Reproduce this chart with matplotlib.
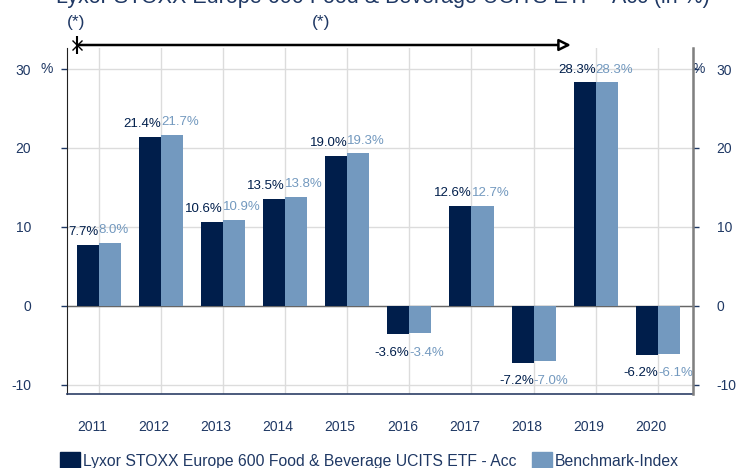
import numpy as np
import matplotlib
matplotlib.use("Agg")
import matplotlib.pyplot as plt
from matplotlib.patches import Patch
from matplotlib.transforms import ScaledTranslation, blended_transform_factory

plt.rcParams['font.family'] = ['Liberation Sans', 'DejaVu Sans']

# data
years = ['2011', '2012', '2013', '2014', '2015', '2016', '2017', '2018', '2019', '2020']
etf = [7.7, 21.4, 10.6, 13.5, 19.0, -3.6, 12.6, -7.2, 28.3, -6.2]
bench = [8.0, 21.7, 10.9, 13.8, 19.3, -3.4, 12.7, -7.0, 28.3, -6.1]
yticks = [-10, 0, 10, 20, 30]
etf_name = 'Lyxor STOXX Europe 600 Food & Beverage UCITS ETF - Acc'
bench_name = 'Benchmark-Index'
title = 'Lyxor STOXX Europe 600 Food & Beverage UCITS ETF - Acc (in %)'

dark = '#001e4b'
light = '#7399bf'
txt = '#1f3864'

fig = plt.figure(figsize=(7.36, 4.68), dpi=100)
ax = fig.add_axes([67/736, 1 - 394/468, (693-67)/736, (394-48)/468])

x = np.arange(len(years))
w = 0.355
ax.bar(x - w/2, etf, w, color=dark, zorder=3)
ax.bar(x + w/2, bench, w, color=light, zorder=3)

ax.set_xlim(-0.51, 9.565)
ax.set_ylim(-11.18, 32.67)

# grid
ax.set_xticks(x)
ax.set_xticklabels(years, fontsize=10, color=txt)
ax.set_yticks(yticks)
ax.grid(True, color='#dcdcdc', lw=1, zorder=0)
ax.axhline(0, color='#666666', lw=1, zorder=2)
ax.tick_params(axis='x', length=0, pad=19)
for lab in ax.get_xticklabels():
    lab.set_transform(lab.get_transform() + ScaledTranslation(-7/100, 0, fig.dpi_scale_trans))

ax.set_yticklabels([str(t) for t in yticks], fontsize=10, color=txt)
ax.tick_params(axis='y', length=4, width=1, color=txt, pad=22, direction='out')

ax2 = ax.twinx()
ax2.set_ylim(ax.get_ylim())
ax2.set_yticks(yticks)
ax2.set_yticklabels([str(t) for t in yticks], fontsize=10, color=txt)
ax2.tick_params(axis='y', length=4, width=1, color=txt, pad=13)

ax.spines['top'].set_visible(False)
ax2.spines['top'].set_visible(False)
ax.spines['left'].set_color('#222222')
ax.spines['bottom'].set_color('#2c3e66')
ax.spines['bottom'].set_linewidth(1.2)
ax2.spines['right'].set_color('#808080')
ax2.spines['right'].set_linewidth(1.8)
ax2.spines['left'].set_visible(False)
ax2.spines['bottom'].set_visible(False)

# "%" unit marks next to the 30 tick
ax.annotate('%', xy=(0, 30), xycoords=('axes fraction', 'data'), xytext=(-14.5, 0),
            textcoords='offset points', ha='center', va='center', fontsize=10, color=txt)
ax.annotate('%', xy=(1, 30), xycoords=('axes fraction', 'data'), xytext=(3.8, 0),
            textcoords='offset points', ha='center', va='center', fontsize=10, color=txt)

# value labels
for i in range(len(years)):
    for v, ha, col in [(etf[i], 'right', dark), (bench[i], 'left', light)]:
        if v >= 0:
            ax.annotate(f'{v:.1f}%', xy=(x[i], v), xytext=(0, 5), textcoords='offset points',
                        ha=ha, va='bottom', fontsize=9.5, color=col, zorder=5)
        else:
            ax.annotate(f'{v:.1f}%', xy=(x[i], min(etf[i], bench[i])), xytext=(0, -9),
                        textcoords='offset points', ha=ha, va='top', fontsize=9.5, color=col, zorder=5)

# period arrow and (*) marks above the plot
tr = blended_transform_factory(ax.transData, fig.transFigure)
ya = 1 - 45/468
ax.annotate('', xy=(7.6, ya), xycoords=tr, xytext=(-0.33, ya), textcoords=tr,
            arrowprops=dict(arrowstyle='-|>,head_length=0.7,head_width=0.35', fc='white',
                            ec='black', lw=1.8, shrinkA=0, shrinkB=0))
ax.plot([-0.35], [ya], marker='x', ms=7, mew=1, color='black', transform=tr, clip_on=False)
ax.plot([-0.35], [ya], marker='|', ms=13, mew=1.5, color='black', transform=tr, clip_on=False)
fig.text(76/736, 1 - 23/468, '(*)', ha='center', va='center', fontsize=12.5, color=txt)
fig.text(321/736, 1 - 23/468, '(*)', ha='center', va='center', fontsize=12.5, color=txt)

# title, cut at the top edge as in the reference
fig.text(383/736, 1 - 3/468, title, ha='center', va='baseline', fontsize=15.5, color=txt)

handles = [Patch(color=dark, label=etf_name), Patch(color=light, label=bench_name)]
leg = fig.legend(handles=handles, loc='lower left', bbox_to_anchor=(52/736, -0.02), ncol=2,
                 frameon=False, fontsize=11.3, handlelength=1.3, handleheight=1.3,
                 handletextpad=0.15, columnspacing=1.0, borderpad=0)
for t in leg.get_texts():
    t.set_color(txt)

fig.savefig('out.png', dpi=100)
